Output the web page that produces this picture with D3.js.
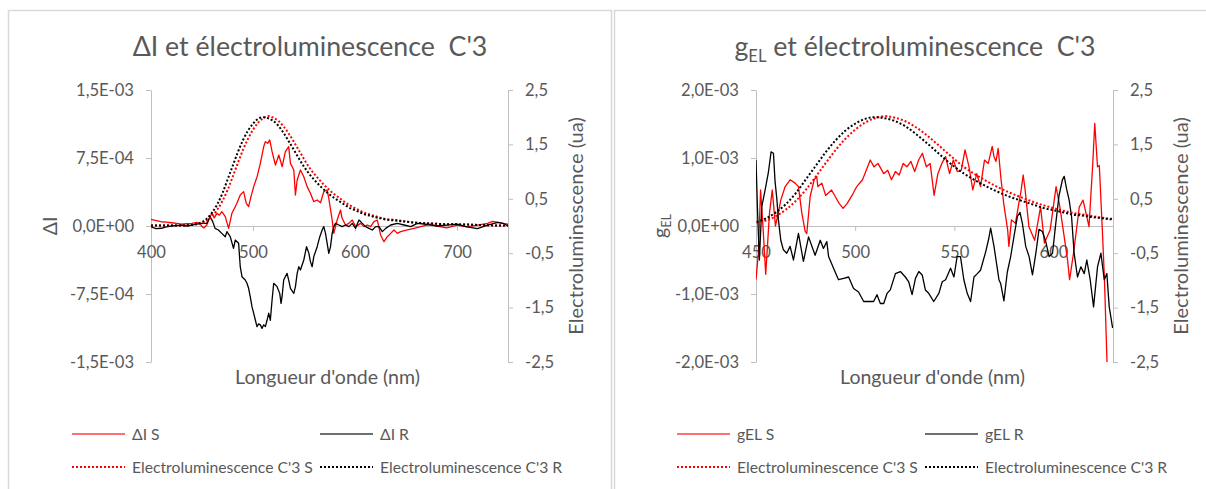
<!DOCTYPE html>
<html><head><meta charset="utf-8">
<script src="https://cdn.jsdelivr.net/npm/d3@7"></script>
<style>
html,body{margin:0;padding:0;background:#fff;}
svg{display:block;font-family:Lato,"Open Sans",sans-serif;}
text{white-space:pre;}
</style></head><body>
<svg id="c" width="1206" height="489"></svg>
<script>
// ---------- DATA ----------
// Left chart: ΔI (primary axis) vs wavelength (nm)
const wlIS = [400,405,410,415,420,425,430,435,440,445,448,450,452,454.7,457,459.7,462,464.6,467,469.5,472.8,476.1,479.3,482.6,484.2,487.5,490.8,493.4,495.7,498.0,500.7,504.0,507.2,510.5,512.1,514.4,516.4,518.7,522.0,525.3,528.6,531.7,535.0,536.7,540.0,541.6,543.3,546.5,549.8,553.1,556.3,559.6,562.9,566.2,569.4,572.7,574.3,577.6,579.2,582.5,585.8,587.4,590.7,594.0,597.3,600.6,605.5,608.8,612.1,615.3,618.6,621.9,625.1,628.4,631.7,635.0,638.2,641.5,644.8,651.3,657.9,664.4,674.3,680,690,700,710,720,730,735,740,745,750];
const dIS  = [0.74e-4,0.6e-4,0.47e-4,0.42e-4,0.36e-4,0.3e-4,0.2e-4,0.25e-4,0.3e-4,0.4e-4,0.25e-4,-0.07e-4,-0.2e-4,0.11e-4,0.8e-4,1.4e-4,0.9e-4,1.4e-4,1.2e-4,1.58e-4,1.03e-4,-0.26e-4,1.4e-4,2.13e-4,2.5e-4,3.42e-4,3.79e-4,2.5e-4,2.13e-4,3.24e-4,4.34e-4,5.44e-4,6.91e-4,8.75e-4,9.3e-4,9.12e-4,9.49e-4,8.2e-4,6.73e-4,7.83e-4,6.54e-4,8.2e-4,8.75e-4,6.91e-4,6.18e-4,3.42e-4,5.07e-4,6.18e-4,5.44e-4,4.34e-4,3.61e-4,2.68e-4,2.87e-4,2.57e-4,3.79e-4,3.97e-4,3.05e-4,0.66e-4,-0.81e-4,0.66e-4,1.76e-4,0.85e-4,0.11e-4,0.29e-4,0.66e-4,-0.07e-4,0.29e-4,-0.07e-4,0.11e-4,-0.07e-4,0.48e-4,0.66e-4,-0.99e-4,-1.73e-4,-1.18e-4,-0.81e-4,-0.44e-4,-0.81e-4,-0.62e-4,-0.44e-4,-0.26e-4,-0.07e-4,0.22e-4,0.0,-0.2e-4,0.1e-4,-0.1e-4,0.1e-4,0.3e-4,0.5e-4,0.4e-4,0.3e-4,0.2e-4];
const wlIR = [400,405,410,415,420,425,430,435,440,445,450,454.7,457.9,460.5,462.8,466.1,469.4,472.8,474.4,477.7,480.9,482.6,485.9,487.5,489.2,492.4,494.1,495.7,497.3,499.0,500.7,502.3,503.9,505.5,507.2,508.8,510.5,512.1,513.8,515.4,517.0,518.7,520.3,523.6,526.2,527.5,528.5,530.1,533.4,535.0,536.7,540.0,541.6,543.3,544.9,546.5,549.8,552.5,554.8,556.3,558.0,559.6,562.9,565.5,567.8,569.4,571.1,572.7,574.3,576.0,577.6,579.2,580.9,584.2,587.4,590.7,594.0,597.3,600.6,603.9,607.2,610.4,613.7,617.0,620.3,623.5,626.8,630.1,635.0,641.5,648.1,654.6,661.2,667.7,674.3,680,690,700,710,720,730,740,745,750];
const dIR  = [-0.1e-4,-0.3e-4,-0.25e-4,-0.1e-4,0.0,0.05e-4,0.1e-4,0.0,0.1e-4,0.2e-4,0.3e-4,0.29e-4,1.03e-4,0.48e-4,-0.26e-4,-0.44e-4,-0.81e-4,-1.18e-4,-0.62e-4,-1.18e-4,-2.46e-4,-1.55e-4,-1.91e-4,-4.49e-4,-5.59e-4,-5.96e-4,-6.32e-4,-6.87e-4,-7.8e-4,-8.9e-4,-9.63e-4,-10.37e-4,-11.1e-4,-10.8e-4,-10.9e-4,-11.29e-4,-10.9e-4,-11.1e-4,-10.4e-4,-9.6e-4,-10.4e-4,-8.16e-4,-6.32e-4,-6.69e-4,-7.43e-4,-8.53e-4,-7.8e-4,-5.96e-4,-5.22e-4,-5.96e-4,-6.87e-4,-7.43e-4,-6.69e-4,-5.22e-4,-4.49e-4,-4.85e-4,-3.75e-4,-2.28e-4,-3.02e-4,-3.93e-4,-4.49e-4,-3.38e-4,-2.28e-4,-1.18e-4,-0.44e-4,-0.07e-4,-0.81e-4,-1.91e-4,-3.02e-4,-2.28e-4,-0.81e-4,-0.07e-4,0.29e-4,0.11e-4,-0.07e-4,0.11e-4,-0.07e-4,0.29e-4,-0.26e-4,0.66e-4,0.29e-4,-0.07e-4,-0.26e-4,-0.44e-4,-0.07e-4,-0.07e-4,-0.62e-4,-0.26e-4,0.11e-4,0.29e-4,0.11e-4,-0.07e-4,0.29e-4,0.22e-4,0.11e-4,0.0,0.1e-4,0.2e-4,-0.1e-4,-0.3e-4,0.1e-4,0.4e-4,0.3e-4,0.0];

// Right chart: gEL (primary axis) vs wavelength (nm)
const wlGS = [450,451.2,452.3,453.5,454.9,456.8,458.2,459.8,461.3,462.5,464.7,467.2,469.7,471.4,473.1,474.8,475.6,477.3,479.3,480.6,481.2,483.2,485.1,488.1,490.0,492.0,493.9,495.9,498.8,500.8,503.7,505.6,507.6,509.5,511.5,514.4,516.4,518.3,520.3,522.2,524.2,526.1,528.1,530.0,532.0,533.9,535.9,537.8,539.8,541.7,543.7,545.6,547.6,549.5,551.5,553.5,555.4,557.4,559.3,561.3,563.2,565.2,567.1,569.1,570.0,571.0,572.1,573.5,574.9,576.9,577.5,578.8,580.8,583.7,584.7,585.7,587.6,590.5,593.5,595.4,598.3,601.3,603.2,607.1,608.1,610.1,613.0,614.9,617.9,619.8,620.8,622.2,623.1,624.7,625.7,627.0,628.5];
const gS   = [-0.79e-3,-0.40e-3,0.53e-3,0.0,-0.71e-3,0.19e-3,0.53e-3,0.0,0.20e-3,0.38e-3,0.58e-3,0.68e-3,0.63e-3,0.58e-3,0.19e-3,-0.08e-3,-0.11e-3,0.43e-3,0.68e-3,0.73e-3,0.58e-3,0.63e-3,0.45e-3,0.53e-3,0.43e-3,0.33e-3,0.26e-3,0.33e-3,0.47e-3,0.58e-3,0.68e-3,0.82e-3,0.97e-3,0.87e-3,0.92e-3,0.77e-3,0.82e-3,0.68e-3,0.80e-3,0.75e-3,0.92e-3,0.87e-3,0.95e-3,0.80e-3,0.97e-3,1.07e-3,0.87e-3,0.92e-3,0.45e-3,0.77e-3,0.92e-3,1.02e-3,0.77e-3,0.97e-3,0.80e-3,0.82e-3,1.12e-3,0.87e-3,0.53e-3,0.77e-3,0.58e-3,0.97e-3,0.92e-3,1.17e-3,1.02e-3,0.95e-3,1.14e-3,0.70e-3,0.33e-3,-0.06e-3,-0.30e-3,0.09e-3,0.04e-3,0.53e-3,0.75e-3,0.53e-3,-0.01e-3,-0.21e-3,0.28e-3,-0.25e-3,-0.06e-3,0.58e-3,0.28e-3,-0.50e-3,-0.79e-3,-0.40e-3,0.28e-3,0.38e-3,-0.01e-3,0.92e-3,1.51e-3,0.87e-3,0.89e-3,-0.11e-3,-0.79e-3,-2.02e-3,-3.20e-3];
const wlGR = [450,450.8,451.7,452.9,454.6,456.2,457.6,458.8,459.6,460.5,461.3,462.5,463.8,465.5,467.2,468.9,471.4,473.9,476.5,479.8,482.4,484.0,485.7,486.6,489.1,491.6,494.2,496.7,499.2,501.7,504.3,506.8,509.3,511.0,512.7,514.4,516.1,517.7,520.3,522.8,525.3,527.0,528.7,530.4,532.1,533.8,535.4,537.1,539.6,542.2,543.9,545.6,548.1,549.8,551.4,553.1,554.8,556.5,558.2,559.9,561.6,563.2,565.8,567.4,568.3,570.0,572.5,573.4,575.0,576.7,578.4,580.1,581.8,583.1,584.3,586.0,587.7,589.4,591.1,592.7,594.4,596.1,597.8,599.5,601.2,602.8,604.5,605.4,606.7,607.9,609.1,610.4,612.1,613.8,615.5,616.8,618.5,620.2,622.2,623.9,625.6,626.9,628.1,629.8];
const gR   = [0.97e-3,0.2e-3,-0.5e-3,0.28e-3,0.53e-3,0.78e-3,1.09e-3,1.07e-3,0.66e-3,0.4e-3,0.09e-3,-0.21e-3,-0.35e-3,-0.40e-3,-0.30e-3,-0.50e-3,-0.11e-3,-0.52e-3,-0.16e-3,-0.43e-3,-0.21e-3,-0.33e-3,-0.23e-3,-0.45e-3,-0.62e-3,-0.79e-3,-0.77e-3,-0.75e-3,-0.92e-3,-0.97e-3,-1.11e-3,-1.11e-3,-1.11e-3,-1.01e-3,-1.14e-3,-1.14e-3,-0.99e-3,-0.94e-3,-0.70e-3,-0.67e-3,-0.75e-3,-0.82e-3,-1.01e-3,-0.77e-3,-0.67e-3,-0.72e-3,-0.94e-3,-0.99e-3,-1.11e-3,-0.99e-3,-0.82e-3,-0.79e-3,-0.62e-3,-0.75e-3,-0.45e-3,-0.45e-3,-0.79e-3,-0.99e-3,-1.11e-3,-0.75e-3,-0.70e-3,-0.65e-3,-0.38e-3,-0.18e-3,-0.03e-3,-0.30e-3,-0.79e-3,-0.85e-3,-1.10e-3,-0.68e-3,-0.45e-3,-0.15e-3,0.14e-3,0.20e-3,0.04e-3,-0.30e-3,-0.45e-3,-0.72e-3,-0.40e-3,-0.05e-3,-0.08e-3,-0.23e-3,-0.45e-3,-0.40e-3,0.05e-3,0.45e-3,0.68e-3,0.73e-3,0.53e-3,0.38e-3,0.14e-3,-0.40e-3,-0.75e-3,-0.60e-3,-0.70e-3,-0.50e-3,-0.79e-3,-1.19e-3,-0.60e-3,-0.40e-3,-0.79e-3,-0.70e-3,-1.19e-3,-1.50e-3];

// Electroluminescence C'3 (secondary axis, ua), shared by both charts
const wlEL = [400,410,420,430,440,445,450,455,460,465,470,475,480,485,490,495,500,505,510,515,520,525,530,535,540,545,550,555,560,565,570,575,580,585,590,595,600,605,610,615,620,625,630,640,650,660,670,680,690,700,720,740,750];
const elS  = [0.01,0.01,0.01,0.01,0.02,0.03,0.05,0.10,0.18,0.30,0.46,0.66,0.90,1.15,1.39,1.60,1.77,1.90,1.98,2.02,1.99,1.93,1.83,1.70,1.55,1.39,1.23,1.08,0.96,0.85,0.75,0.66,0.58,0.51,0.44,0.38,0.33,0.28,0.24,0.21,0.18,0.15,0.13,0.11,0.08,0.06,0.05,0.04,0.03,0.03,0.02,0.01,0.01];
const elR  = [0.01,0.01,0.01,0.01,0.02,0.04,0.07,0.14,0.25,0.40,0.60,0.85,1.10,1.35,1.57,1.75,1.88,1.97,2.00,1.98,1.93,1.84,1.71,1.56,1.40,1.24,1.09,0.96,0.85,0.75,0.66,0.58,0.51,0.45,0.39,0.33,0.29,0.25,0.21,0.19,0.16,0.14,0.12,0.10,0.08,0.06,0.05,0.04,0.03,0.03,0.02,0.01,0.01];

// Ticks
const xTicksL = [400,500,600,700];
const xTicksR = [450,500,550,600];
const yTicksL = [-1.5e-3,-7.5e-4,0,7.5e-4,1.5e-3];
const yTicksR = [-2e-3,-1e-3,0,1e-3,2e-3];
const elTicks = [-2.5,-1.5,-0.5,0.5,1.5,2.5];

// Text
const titleL = "ΔI et électroluminescence  C'3";
const titleRtail = " et électroluminescence  C'3";
const xTitle = "Longueur d'onde (nm)";
const elTitle = "Electroluminescence (ua)";
const legendL = ["ΔI S","ΔI R","Electroluminescence C'3 S","Electroluminescence C'3 R"];
const legendR = ["gEL S","gEL R","Electroluminescence C'3 S","Electroluminescence C'3 R"];

// ---------- DRAW ----------
const TEXT='#595959', AXIS='#bfbfbf', BORDER='#d9d9d9', RED='#ff0000', BLACK='#000000';
const svg = d3.select('#c');

function fmtE(v){
  if (v===0) return '0,0E+00';
  const [m,e] = v.toExponential(1).split('e');
  const en = parseInt(e,10);
  return m.replace('.',',') + 'E' + (en<0?'-':'+') + String(Math.abs(en)).padStart(2,'0');
}
function fmtD(v){ return v.toFixed(1).replace('.',','); }

function fitSize(str, target, base=20){
  const t = svg.append('text').attr('font-size',base).text(str);
  const w = t.node().getComputedTextLength(); t.remove();
  return base*target/w;
}

function draw(){
  const fsTick = fitSize('1,5E-03', 58);
  const fsTitle = fitSize("électroluminescence  C'3", 292);
  const fsAx = fitSize(xTitle, 185);
  const fsEl = fitSize(elTitle, 213);
  const fsLeg = fitSize("Electroluminescence C'3 S", 181);

  // panel borders
  svg.append('rect').attr('x',8.5).attr('y',10.5).attr('width',603).attr('height',520)
    .attr('fill','none').attr('stroke',BORDER).attr('stroke-width',1.5);
  svg.append('rect').attr('x',614.5).attr('y',10.5).attr('width',620).attr('height',520)
    .attr('fill','none').attr('stroke',BORDER).attr('stroke-width',1.5);

  const panels = [
    {dx:0, xDom:[400,750], xTicks:xTicksL, yDom:[-1.5e-3,1.5e-3], yTicks:yTicksL,
     s:[[wlIS,dIS],[wlIR,dIR]], legend:legendL, id:'L'},
    {dx:605, xDom:[450,630], xTicks:xTicksR, yDom:[-2e-3,2e-3], yTicks:yTicksR,
     s:[[wlGS,gS],[wlGR,gR]], legend:legendR, id:'R'}
  ];

  panels.forEach(p=>{
    const x0=151+p.dx, x1=508+p.dx, yT=90, yB=362;
    const xs = d3.scaleLinear().domain(p.xDom).range([x0,x1]);
    const yl = d3.scaleLinear().domain(p.yDom).range([yB,yT]);
    const yr = d3.scaleLinear().domain([-2.5,2.5]).range([yB,yT]);
    const g = svg.append('g');

    // title
    const tt = g.append('text').attr('x',310+p.dx).attr('y',56).attr('text-anchor','middle')
      .attr('fill',TEXT).attr('font-size',fsTitle);
    if (p.id==='L') tt.text(titleL);
    else {
      tt.append('tspan').text('g');
      tt.append('tspan').attr('font-size',fsTitle*0.62).attr('dy',6).text('EL');
      tt.append('tspan').attr('dy',-6).text(titleRtail);
    }

    const styleAxis = (sel, fs) => {
      sel.attr('font-family',null).attr('font-size',fs);
      sel.select('.domain').attr('stroke',AXIS).attr('stroke-width',1);
      sel.selectAll('.tick line').attr('stroke',AXIS);
      sel.selectAll('.tick text').attr('fill',TEXT);
    };
    // left axis
    g.append('g').attr('transform',`translate(${x0},0)`)
      .call(d3.axisLeft(yl).tickValues(p.yTicks).tickFormat(fmtE).tickSize(5).tickSizeOuter(0).tickPadding(12))
      .call(s=>styleAxis(s,fsTick));
    // right axis
    g.append('g').attr('transform',`translate(${x1},0)`)
      .call(d3.axisRight(yr).tickValues(elTicks).tickFormat(fmtD).tickSize(5).tickSizeOuter(0).tickPadding(12))
      .call(s=>styleAxis(s,fsTick));
    // x axis at zero
    g.append('g').attr('transform',`translate(0,${yl(0)})`)
      .call(d3.axisBottom(xs).tickValues(p.xTicks).tickFormat(d3.format('d')).tickSize(5).tickSizeOuter(0).tickPadding(15))
      .call(s=>styleAxis(s,fsTick));

    // axis titles
    g.append('text').attr('x',(x0+x1)/2-2).attr('y',384).attr('text-anchor','middle')
      .attr('fill',TEXT).attr('font-size',fsAx).text(xTitle);
    g.append('text').attr('transform',`translate(${583+p.dx},226) rotate(-90)`).attr('text-anchor','middle')
      .attr('fill',TEXT).attr('font-size',fsAx*1.03).text(elTitle);
    const yt = g.append('text').attr('text-anchor','middle').attr('fill',TEXT).attr('font-size',fsAx);
    if (p.id==='L') yt.attr('transform',`translate(57,226) rotate(-90)`).text('ΔI');
    else {
      yt.attr('transform',`translate(${62+p.dx},226) rotate(-90)`);
      yt.append('tspan').text('g');
      yt.append('tspan').attr('font-size',fsAx*0.65).attr('dy',4).text('EL');
    }

    // clip
    const cid='clip'+p.id;
    svg.append('clipPath').attr('id',cid).append('rect')
      .attr('x',x0).attr('y',yT).attr('width',x1-x0).attr('height',yB-yT);
    const plot = g.append('g').attr('clip-path',`url(#${cid})`);

    const lineL = d3.line().x(d=>xs(d[0])).y(d=>yl(d[1]));
    const lineR = d3.line().x(d=>xs(d[0])).y(d=>yr(d[1]));
    plot.append('path').datum(d3.zip(p.s[0][0],p.s[0][1])).attr('d',lineL)
      .attr('fill','none').attr('stroke',RED).attr('stroke-width',1.3).attr('stroke-linejoin','round');
    plot.append('path').datum(d3.zip(p.s[1][0],p.s[1][1])).attr('d',lineL)
      .attr('fill','none').attr('stroke',BLACK).attr('stroke-width',1.3).attr('stroke-linejoin','round');
    plot.append('path').datum(d3.zip(wlEL,elS)).attr('d',lineR.curve(d3.curveMonotoneX))
      .attr('fill','none').attr('stroke',RED).attr('stroke-width',2).attr('stroke-dasharray','2 2');
    plot.append('path').datum(d3.zip(wlEL,elR)).attr('d',lineR.curve(d3.curveMonotoneX))
      .attr('fill','none').attr('stroke',BLACK).attr('stroke-width',2).attr('stroke-dasharray','2 2');

    // legend
    const items = [
      {t:p.legend[0], c:RED, dash:null, col:0, row:0},
      {t:p.legend[1], c:BLACK, dash:null, col:1, row:0},
      {t:p.legend[2], c:RED, dash:'2 2', col:0, row:1},
      {t:p.legend[3], c:BLACK, dash:'2 2', col:1, row:1}
    ];
    items.forEach(it=>{
      const lx = (it.col===0?72:320)+p.dx, ly = it.row===0?434:467;
      g.append('line').attr('x1',lx).attr('x2',lx+53).attr('y1',ly).attr('y2',ly)
        .attr('stroke',it.c).attr('stroke-width',it.dash?2:1.5).attr('stroke-dasharray',it.dash)
        .attr('stroke-opacity',it.dash?1:0.75);
      g.append('text').attr('x',lx+60).attr('y',ly).attr('dy','0.35em')
        .attr('fill',TEXT).attr('font-size',fsLeg).text(it.t);
    });
  });
}
if (document.fonts && document.fonts.ready) document.fonts.ready.then(draw); else draw();
</script>
</body></html>
